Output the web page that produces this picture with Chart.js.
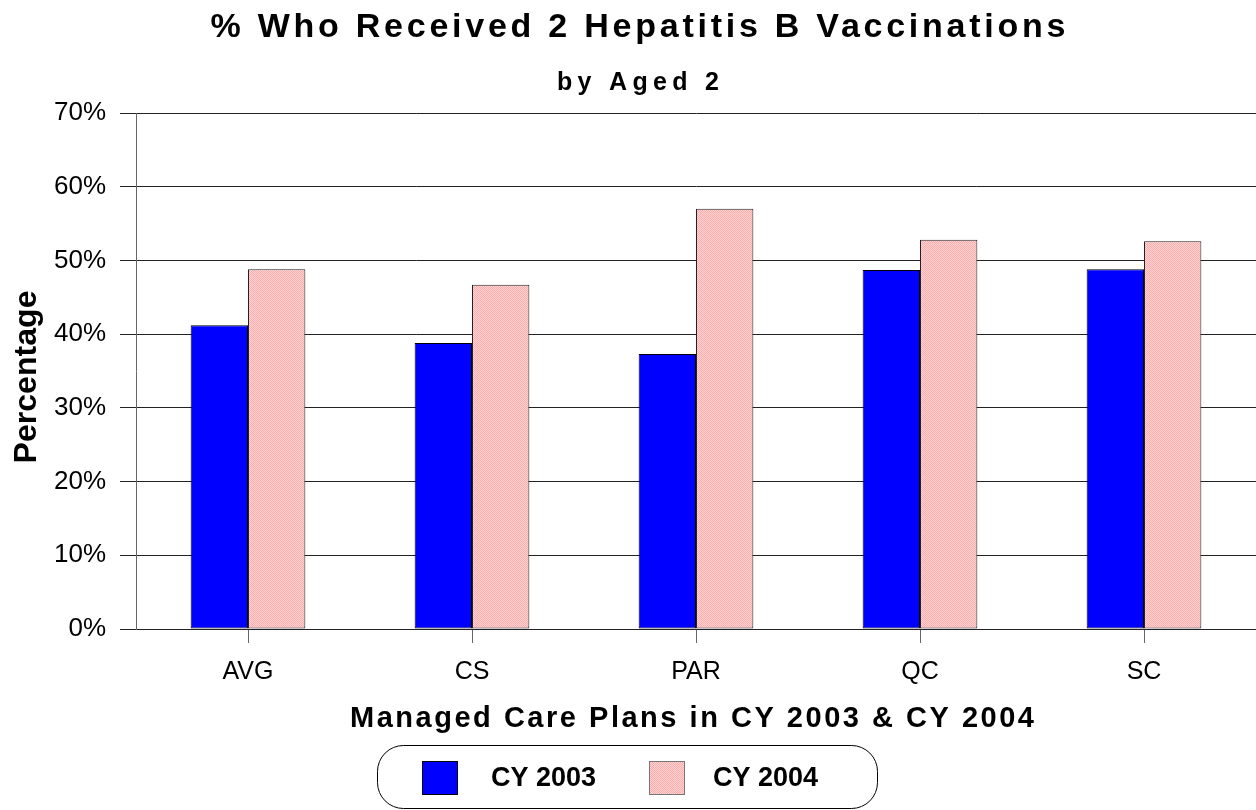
<!doctype html>
<html>
<head>
<meta charset="utf-8">
<title>Hepatitis B Vaccinations</title>
<script src="https://cdn.jsdelivr.net/npm/chart.js@4/dist/chart.umd.min.js"></script>
<style>
	html, body { margin: 0; padding: 0; background: #fff; }
	#holder { width: 1256px; height: 810px; position: relative; }
</style>
</head>
<body>
<div id="holder"><canvas id="chart"></canvas></div>
<script>
	const plans = ['AVG', 'CS', 'PAR', 'QC', 'SC'];
	const cy2003 = [41.2, 38.8, 37.3, 48.7, 48.8];
	const cy2004 = [48.8, 46.7, 57.0, 52.8, 52.6];
	const seriesNames = ['CY 2003', 'CY 2004'];

	const FONT = '"Liberation Sans", Arial, sans-serif';

	// fine pink checker like the original fill
	function pinkPattern() {
		const c = document.createElement('canvas');
		c.width = 2; c.height = 2;
		const g = c.getContext('2d');
		g.fillStyle = '#ffd2d2'; g.fillRect(0, 0, 2, 2);
		g.fillStyle = '#ffaeae'; g.fillRect(0, 0, 1, 1); g.fillRect(1, 1, 1, 1);
		return g.createPattern(c, 'repeat');
	}
	const pink = pinkPattern();

	// draws text stretched by letter spacing to a given width, centred on cx
	function spaced(ctx, text, cx, y, font, width) {
		ctx.font = font;
		ctx.letterSpacing = '0px';
		const w = ctx.measureText(text).width;
		const gap = Math.max(0, (width - w) / (text.length - 1));
		ctx.letterSpacing = gap + 'px';
		ctx.textAlign = 'left';
		const real = w + gap * (text.length - 1);
		ctx.fillText(text, cx - real / 2, y);
		ctx.letterSpacing = '0px';
	}

	const decorations = {
		id: 'decorations',
		afterDraw(chart) {
			const ctx = chart.ctx;
			ctx.save();
			ctx.fillStyle = '#000';
			ctx.textBaseline = 'alphabetic';
			spaced(ctx, '% Who Received 2 Hepatitis B Vaccinations', 638, 37, 'bold 34px ' + FONT, 855);
			spaced(ctx, 'by Aged 2', 638, 90, 'bold 25px ' + FONT, 162);
			spaced(ctx, 'Managed Care Plans in CY 2003 & CY 2004', 692, 727, 'bold 29px ' + FONT, 684);

			ctx.save();
			ctx.translate(36, 377);
			ctx.rotate(-Math.PI / 2);
			spaced(ctx, 'Percentage', 0, 0, 'bold 32px ' + FONT, 173);
			ctx.restore();

			// legend box
			ctx.beginPath();
			ctx.roundRect(377.5, 745.5, 500, 63, 26);
			ctx.strokeStyle = '#000';
			ctx.lineWidth = 1;
			ctx.stroke();

			const items = chart.data.datasets;
			const boxX = [422, 649];
			const textX = [491, 713];
			items.forEach((ds, i) => {
				ctx.fillStyle = ds.backgroundColor;
				ctx.fillRect(boxX[i], 761, 35, 33);
				ctx.strokeStyle = i === 0 ? '#000' : '#777';
				ctx.strokeRect(boxX[i] + 0.5, 761.5, 35, 33);
				ctx.fillStyle = '#000';
				ctx.font = 'bold 27px ' + FONT;
				ctx.textAlign = 'left';
				ctx.fillText(ds.label, textX[i], 786);
			});
			ctx.restore();
		}
	};

	const config = {
		type: 'bar',
		data: {
			labels: plans,
			datasets: [{
				label: seriesNames[0],
				data: cy2003,
				backgroundColor: '#0000ff',
				borderColor: '#000',
				borderWidth: 1,
				borderSkipped: false
			}, {
				label: seriesNames[1],
				data: cy2004,
				backgroundColor: pink,
				borderColor: '#222',
				borderWidth: 1,
				borderSkipped: false
			}]
		},
		options: {
			responsive: false,
			animation: false,
			devicePixelRatio: 1,
			layout: { padding: { top: 113, right: 0, bottom: 0, left: 0 } },
			datasets: { bar: { categoryPercentage: 0.512, barPercentage: 1 } },
			plugins: {
				legend: { display: false },
				title: { display: false },
				tooltip: { enabled: false }
			},
			scales: {
				x: {
					afterFit(scale) { scale.height = 181; },
					grid: { drawOnChartArea: false, offset: false, tickLength: 14, color: '#666' },
					border: { color: '#222' },
					ticks: { color: '#000', padding: 14, font: { family: FONT, size: 25 } }
				},
				y: {
					min: 0,
					max: 70,
					afterFit(scale) { scale.width = 136; },
					grid: { color: '#222', tickLength: 16 },
					border: { color: '#666' },
					ticks: {
						stepSize: 10,
						color: '#000',
						padding: 14,
						font: { family: FONT, size: 26 },
						callback: (v) => v + '%'
					}
				}
			}
		},
		plugins: [decorations]
	};

	window.onload = function() {
		const canvas = document.getElementById('chart');
		canvas.width = 1256;
		canvas.height = 810;
		canvas.style.width = '1256px';
		canvas.style.height = '810px';
		window.myChart = new Chart(canvas.getContext('2d'), config);
	};
</script>
</body>
</html>
